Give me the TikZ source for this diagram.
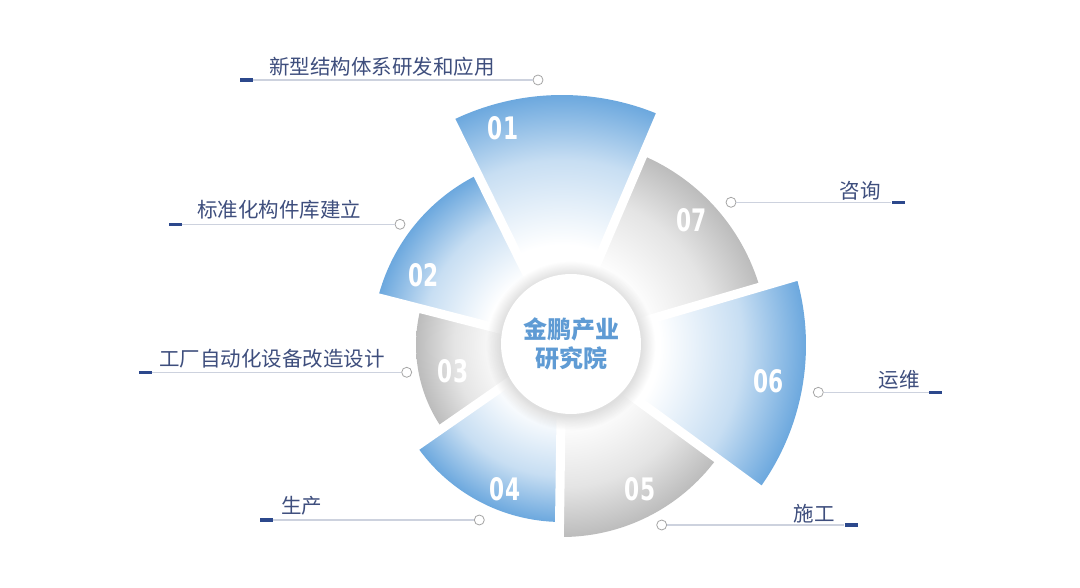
\documentclass[tikz,border=0pt]{standalone}
\usepackage{fontspec}
\usepackage{graphicx}
\setmainfont{Noto Sans CJK SC}
\newfontfamily\cjk{Noto Sans CJK SC}
\newfontfamily\numfont{DejaVu Sans}
\definecolor{sblue}{RGB}{108,168,222}
\colorlet{sbluemid}{sblue!38!white}
\definecolor{sgray}{RGB}{188,188,188}
\colorlet{sgraymid}{sgray!40!white}
\definecolor{lblc}{RGB}{62,78,125}
\definecolor{barc}{RGB}{44,72,140}
\definecolor{linec}{RGB}{205,210,222}
\definecolor{dotc}{RGB}{165,165,165}
\definecolor{ctext}{RGB}{95,155,212}
\pgfdeclareradialshading{blueshade}{\pgfpoint{0bp}{0bp}}{color(0bp)=(white); color(10bp)=(white); color(18.5bp)=(sbluemid); color(25bp)=(sblue); color(50bp)=(sblue)}
\pgfdeclareradialshading{grayshade}{\pgfpoint{0bp}{0bp}}{color(0bp)=(white); color(10bp)=(white); color(18.5bp)=(sgraymid); color(25bp)=(sgray); color(50bp)=(sgray)}
\newcommand\nm[1]{\scalebox{0.7}[1]{#1}}
\begin{document}
\begin{tikzpicture}[x=1pt,y=1pt,
  barbox/.style={rectangle, fill=barc, minimum width=13pt, minimum height=3.5pt, inner sep=0pt},
  dotbox/.style={circle, draw=dotc, fill=white, minimum size=10pt, inner sep=0pt, line width=0.8pt},
  conn/.style={draw=linec, line width=1.2pt},
  lbl/.style={inner sep=0pt, text=lblc, font=\cjk\fontsize{20.5}{24}\selectfont},
  num/.style={inner sep=0pt, text=white, font=\numfont\bfseries\fontsize{31}{31}\selectfont},
  hub/.style={circle, fill=white, minimum size=140pt, inner sep=0pt, align=center, text=ctext, font=\cjk\bfseries\fontsize{24}{29}\selectfont}]
\useasboundingbox (0,0) rectangle (1080,587);
\fill[white] (0,0) rectangle (1080,587);
\coordinate (O) at (562,242);
% sectors
\foreach \a/\b/\R/\s in {66.9/116.3/250/blueshade, 116.3/165.6/190/blueshade, 165.6/214.8/146/grayshade, 214.8/269.2/177/blueshade, 269.2/323.8/192/grayshade, 323.8/376.3/244/blueshade, 376.3/426.9/206/grayshade}{
  \begin{scope}
    \clip (O) -- ++(\a:\R) arc[start angle=\a, end angle=\b, radius=\R] -- cycle;
    \shade[shading=\s] (O) circle (\R);
  \end{scope}
}
% gaps
\foreach \a/\R in {66.9/256, 116.3/256, 165.6/196, 214.8/183, 269.2/198, 323.8/250, 376.3/250}{
  \draw[white, line width=9pt] (O) -- ++(\a:\R);
}
% numbers
\node[num] (n1) at (503,458.5) {\nm{01}};
\node[num] (n2) at (423.5,312) {\nm{02}};
\node[num] (n3) at (453,216) {\nm{03}};
\node[num] (n4) at (505,97.5) {\nm{04}};
\node[num] (n5) at (640,98) {\nm{05}};
\node[num] (n6) at (768.5,206) {\nm{06}};
\node[num] (n7) at (691.5,367) {\nm{07}};
% hub shadow
\foreach \i in {1,...,16}{
  \fill[black, opacity=0.006] (571,241) circle ({70+\i*0.9});
}
\node[hub] (hub) at (571,243) {金鹏产业\\研究院};
% labels left
\node[barbox] (b1) at (246.5,507) {};
\node[dotbox] (d1) at (538,507) {};
\draw[conn] (b1.east) -- (d1.west);
\node[lbl, anchor=west] (t1) at (269,520) {新型结构体系研发和应用};
\node[barbox] (b2) at (175,362.7) {};
\node[dotbox] (d2) at (400,362.7) {};
\draw[conn] (b2.east) -- (d2.west);
\node[lbl, anchor=west] (t2) at (197,377) {标准化构件库建立};
\node[barbox] (b3) at (145,214.7) {};
\node[dotbox] (d3) at (406.7,214.7) {};
\draw[conn] (b3.east) -- (d3.west);
\node[lbl, anchor=west] (t3) at (159,228.7) {工厂自动化设备改造设计};
\node[barbox] (b4) at (266,67) {};
\node[dotbox] (d4) at (479.3,67) {};
\draw[conn] (b4.east) -- (d4.west);
\node[lbl, anchor=west] (t4) at (281,81) {生产};
% labels right
\node[dotbox] (d5) at (731,384.7) {};
\node[barbox] (b5) at (898,384.7) {};
\draw[conn] (d5.east) -- (b5.west);
\node[lbl, anchor=east] (t5) at (881,396.3) {咨询};
\node[dotbox] (d6) at (818.3,194.7) {};
\node[barbox] (b6) at (935.5,194.7) {};
\draw[conn] (d6.east) -- (b6.west);
\node[lbl, anchor=east] (t6) at (920,207.7) {运维};
\node[dotbox] (d7) at (661.7,62) {};
\node[barbox] (b7) at (851,62) {};
\draw[conn] (d7.east) -- (b7.west);
\node[lbl, anchor=east] (t7) at (835,73) {施工};
\end{tikzpicture}
\end{document}
